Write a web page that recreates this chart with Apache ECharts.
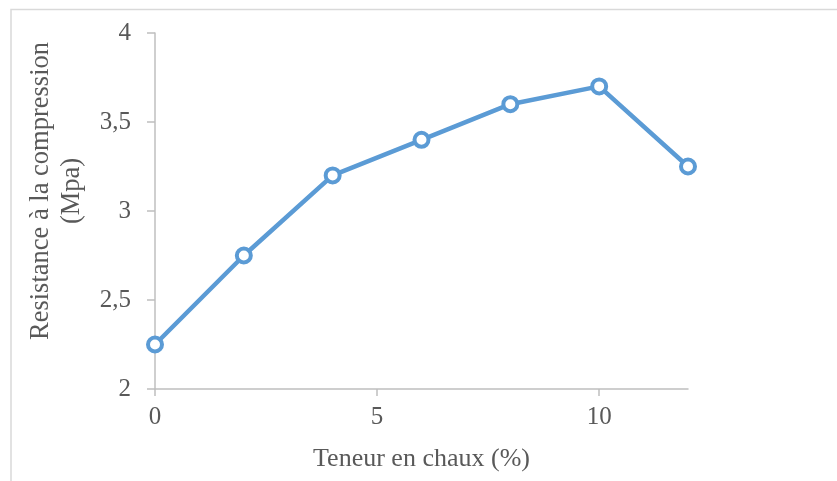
<!DOCTYPE html>
<html>
<head>
<meta charset="utf-8">
<script src="https://cdn.jsdelivr.net/npm/echarts@6/dist/echarts.min.js"></script>
<style>
html,body{margin:0;padding:0;background:#fff;}
#c{width:837px;height:481px;}
</style>
</head>
<body>
<div id="c"></div>
<script>
var xValues = [0, 2, 4, 6, 8, 10, 12];
var yValues = [2.25, 2.75, 3.2, 3.4, 3.6, 3.7, 3.25];
var xTickLabels = [0, 5, 10];
var xTitle = 'Teneur en chaux (%)';
var yTitle = 'Resistance à la compression\n(Mpa)';

var chart = echarts.init(document.getElementById('c'));
var font = '"Liberation Serif", "Times New Roman", serif';
var textColor = '#595959';
var axisColor = '#bfbfbf';

chart.setOption({
  animation: false,
  backgroundColor: '#fff',
  grid: {left: 155, right: 149, top: 33, bottom: 92, containLabel: false},
  graphic: [
    {type: 'rect', shape: {x: 11, y: 9.5, width: 1000, height: 1000},
     style: {fill: 'none', stroke: '#d9d9d9', lineWidth: 1.5}, silent: true},
    {type: 'text', x: 57, y: 191, rotation: Math.PI / 2,
     style: {text: yTitle, font: '26.5px ' + font, fill: textColor,
             align: 'center', verticalAlign: 'middle', lineHeight: 31}}
  ],
  xAxis: {
    type: 'value', min: 0, max: 12, interval: 5,
    name: xTitle, nameLocation: 'middle', nameGap: 57,
    nameTextStyle: {fontFamily: font, fontSize: 26, color: textColor},
    axisLine: {show: true, lineStyle: {color: axisColor, width: 1.5}},
    axisTick: {show: true, length: 7, customValues: xTickLabels, lineStyle: {color: axisColor, width: 1.5}},
    axisLabel: {customValues: xTickLabels, margin: 16, fontFamily: font, fontSize: 25, color: textColor},
    splitLine: {show: false}
  },
  yAxis: {
    type: 'value', min: 2, max: 4, interval: 0.5,
    axisLine: {show: true, lineStyle: {color: axisColor, width: 1.5}},
    axisTick: {show: true, length: 8, lineStyle: {color: axisColor, width: 1.5}},
    axisLabel: {margin: 24, fontFamily: font, fontSize: 25, color: textColor,
      formatter: function (v) { return String(v).replace('.', ','); }},
    splitLine: {show: false}
  },
  series: [{
    type: 'line',
    data: xValues.map(function (x, i) { return [x, yValues[i]]; }),
    symbol: 'circle', symbolSize: 14, showSymbol: true,
    lineStyle: {color: '#5b9bd5', width: 4.5},
    itemStyle: {color: '#ffffff', borderColor: '#5b9bd5', borderWidth: 4}
  }]
});
</script>
</body>
</html>
